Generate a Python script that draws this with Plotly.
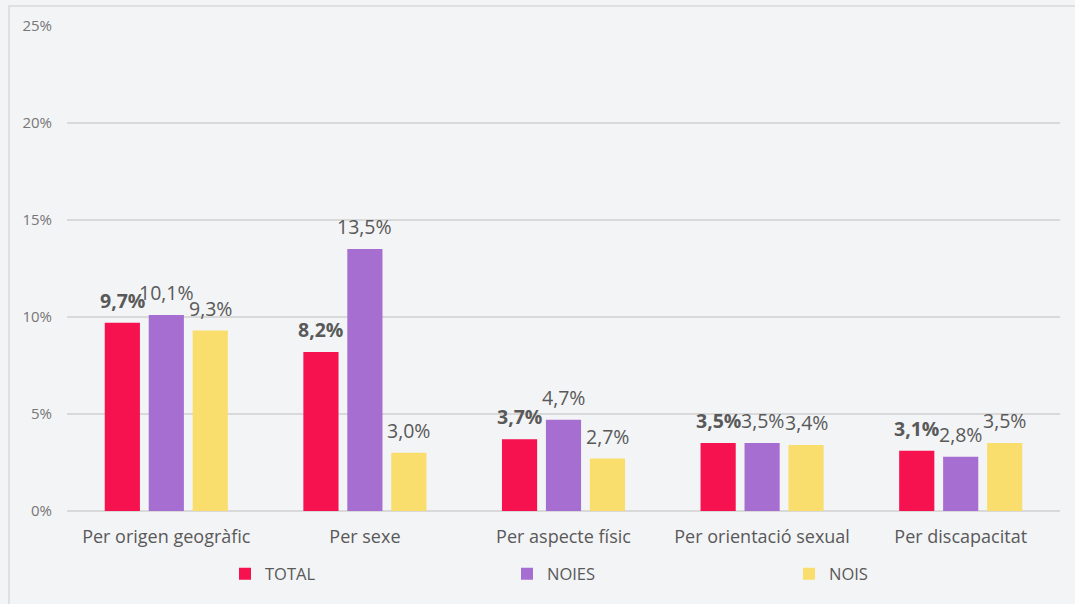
import plotly.graph_objects as go

# Percentages of bullying reasons by group
categories = ["Per origen geogràfic", "Per sexe", "Per aspecte físic",
              "Per orientació sexual", "Per discapacitat"]
total = [9.7, 8.2, 3.7, 3.5, 3.1]
noies = [10.1, 13.5, 4.7, 3.5, 2.8]
nois = [9.3, 3.0, 2.7, 3.4, 3.5]
y_ticks = [0, 5, 10, 15, 20, 25]

FONT = "Open Sans"
TEXT_GREY = "#595959"
TICK_GREY = "#767676"
BG = "#F3F4F6"


def pct_label(v):
    return f"{v:.1f}".replace(".", ",") + "%"


series = [
    ("TOTAL", total, "#F5124F", True),
    ("NOIES", noies, "#A66ED0", False),
    ("NOIS", nois, "#F9DE6E", False),
]

L, R, T, B = 67, 15, 26, 93
W, H = 1075, 604
pw, ph = W - L - R, H - T - B

BARGAP = 0.336
# horizontal distance between neighbouring bars of one group, in px
slot_px = pw / len(categories) * (1 - BARGAP) / len(series)

fig = go.Figure()
annotations = []
for i, (name, vals, color, bold) in enumerate(series):
    fig.add_trace(go.Bar(
        name=name,
        x=categories,
        y=vals,
        marker=dict(color=color, line=dict(width=0)),
        hoverinfo="skip",
    ))
    for cat, v in zip(categories, vals):
        txt = pct_label(v)
        annotations.append(dict(
            x=cat, y=v, xref="x", yref="y",
            text=f"<b>{txt}</b>" if bold else txt,
            showarrow=False,
            xanchor="center", yanchor="bottom",
            xshift=(i - 1) * slot_px, yshift=7,
            font=dict(family=FONT, size=19.5, color=TEXT_GREY),
        ))


def px_x(px):
    return (px - L) / pw


def px_y(py):
    return (H - B - py) / ph


fig.update_layout(
    width=W, height=H,
    margin=dict(l=L, r=R, t=T, b=B, autoexpand=False),
    paper_bgcolor=BG,
    plot_bgcolor=BG,
    barmode="group",
    bargap=BARGAP,
    bargroupgap=0.2,
    font=dict(family=FONT, color=TEXT_GREY),
    showlegend=True,
    legend=dict(
        orientation="h",
        x=px_x(225), xanchor="left",
        y=px_y(574), yanchor="middle",
        entrywidth=237, entrywidthmode="pixels",
        font=dict(family=FONT, size=16.5, color=TEXT_GREY),
        bgcolor="rgba(0,0,0,0)",
        traceorder="normal",
    ),
    xaxis=dict(
        showgrid=False,
        showline=False,
        ticks="",
        tickfont=dict(family=FONT, size=18, color=TEXT_GREY),
        ticklabelstandoff=13,
    ),
    yaxis=dict(
        range=[0, 25],
        tickvals=y_ticks,
        ticktext=[f"{v}%" for v in y_ticks],
        showgrid=True,
        gridcolor="#D9D9D9",
        gridwidth=1.5,
        zeroline=True,
        zerolinecolor="#D9D9D9",
        zerolinewidth=1.5,
        showline=False,
        ticks="",
        tickfont=dict(family=FONT, size=15, color=TICK_GREY),
        ticklabelstandoff=14,
    ),
    annotations=annotations,
    shapes=[dict(
        type="rect", xref="paper", yref="paper", layer="below",
        x0=px_x(9), x1=px_x(1090), y0=px_y(620), y1=px_y(6),
        line=dict(color="#D9D9D9", width=1.5),
        fillcolor="rgba(0,0,0,0)",
    )],
)

fig.write_html("out.html")
